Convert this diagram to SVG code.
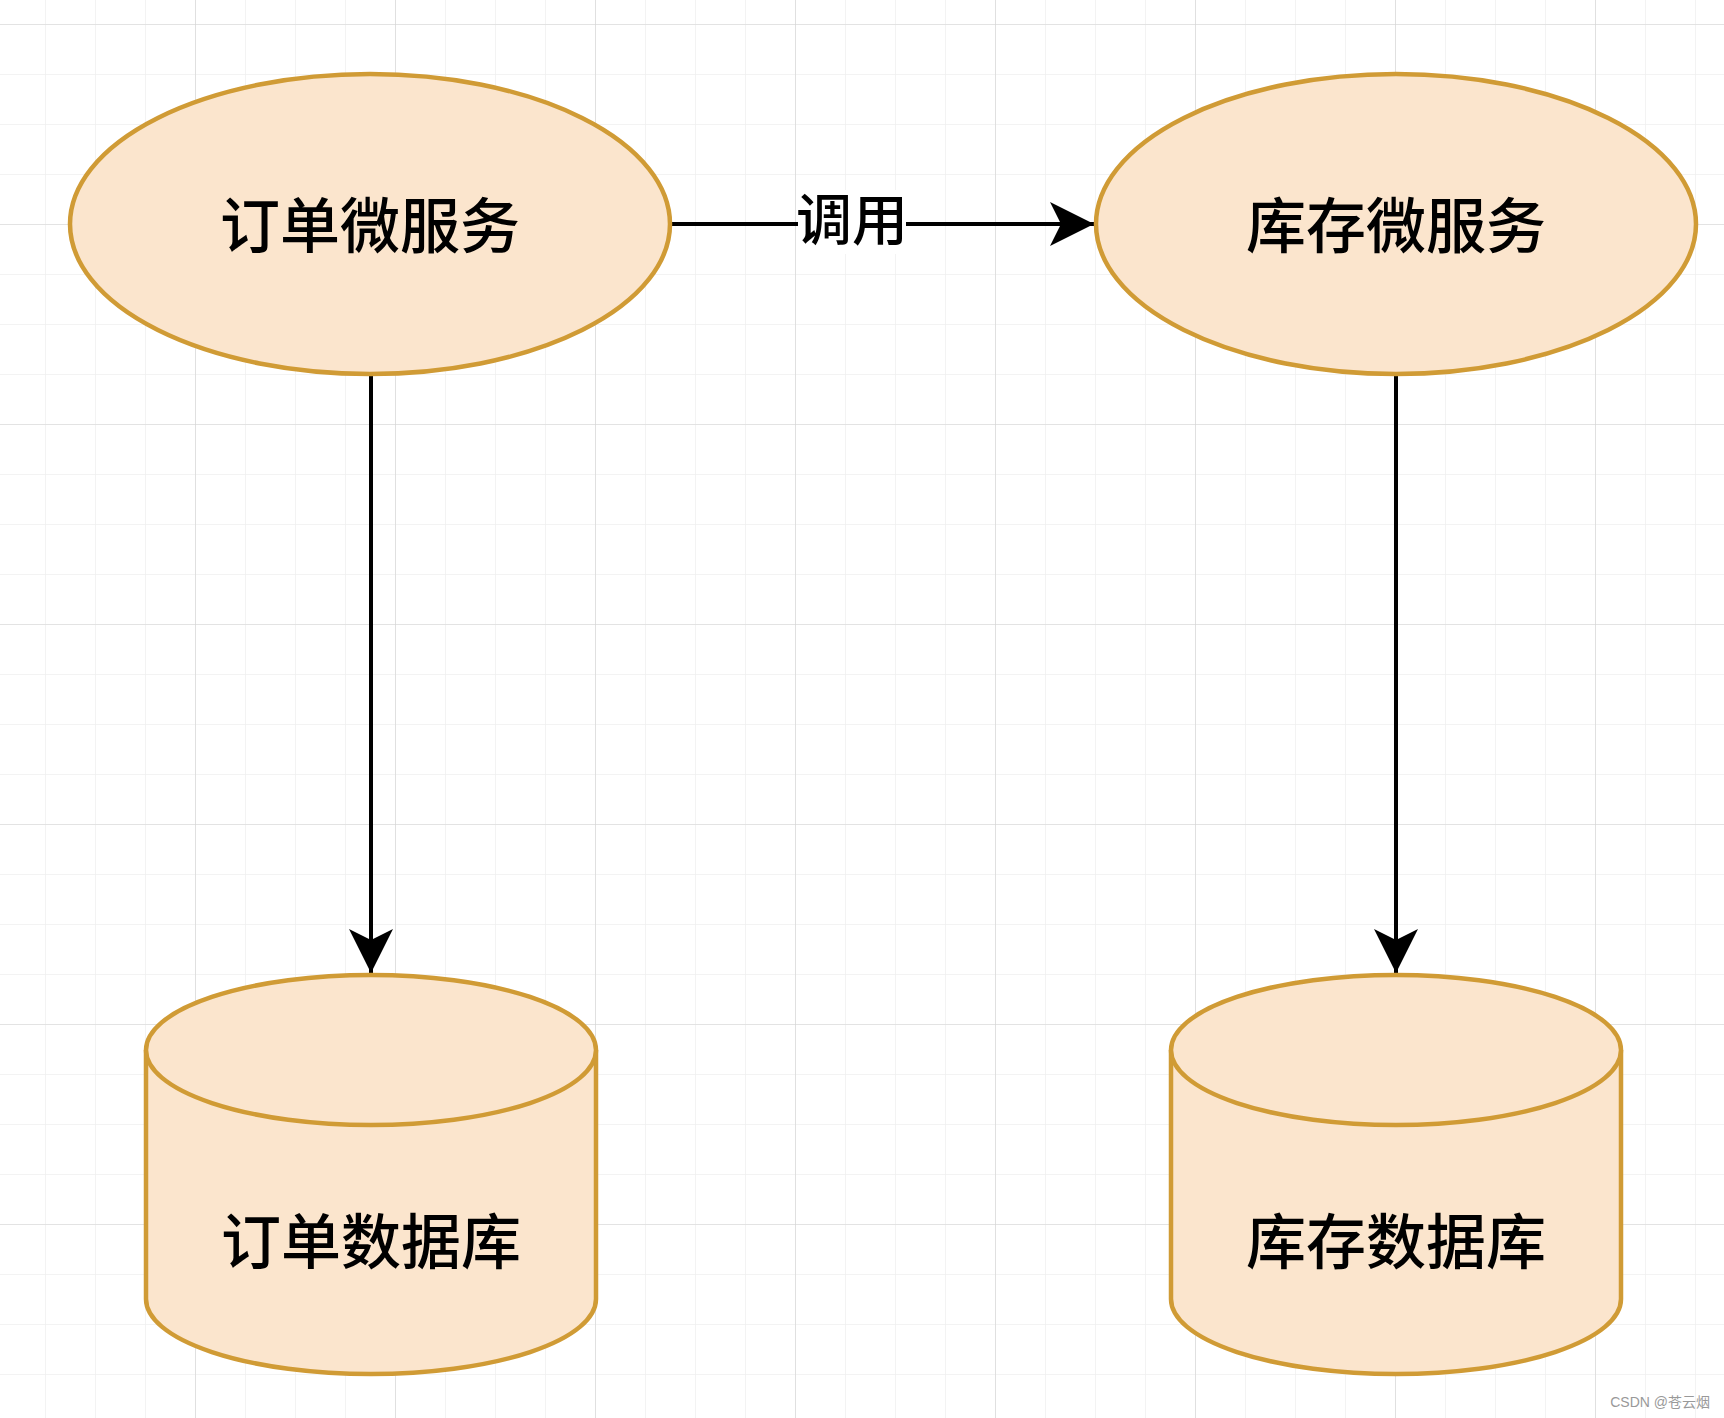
<svg xmlns="http://www.w3.org/2000/svg" width="1724" height="1418" viewBox="0 0 1724 1418">
<defs>
<pattern id="minor" width="50" height="50" patternUnits="userSpaceOnUse" x="-5" y="24">
<path d="M0 0H50M0 0V50" fill="none" stroke="#f0f0f0" stroke-width="1.5"/>
</pattern>
<pattern id="major" width="200" height="200" patternUnits="userSpaceOnUse" x="195" y="24">
<path d="M0 0H200M0 0V200" fill="none" stroke="#d4d4d4" stroke-width="1.2"/>
</pattern>
<marker id="arr" viewBox="0 0 44 44" markerWidth="44" markerHeight="44" refX="44" refY="22" orient="auto" markerUnits="userSpaceOnUse">
<path d="M0 0L44 22L0 44L11 22Z" fill="#000"/>
</marker>
</defs>
<style>
.shape{fill:#fbe5cd;stroke:#d09b35;stroke-width:4.5}
.lbl{font-family:"Noto Sans CJK SC","Noto Sans",sans-serif;font-weight:500;fill:#000;text-anchor:middle}
.big{font-size:60px}
.edge{stroke:#000;stroke-width:4;fill:none}
</style>
<rect width="1724" height="1418" fill="#fff"/>
<rect width="1724" height="1418" fill="url(#minor)"/>
<rect width="1724" height="1418" fill="url(#major)"/>
<g id="connectors">
<path class="edge" d="M670 224H1094" marker-end="url(#arr)"/>
<rect x="798" y="190" width="108" height="64" fill="#fff"/>
<text class="lbl" x="852" y="240" font-size="56">调用</text>
<path class="edge" d="M371 374V973" marker-end="url(#arr)"/>
<path class="edge" d="M1396 374V973" marker-end="url(#arr)"/>
</g>
<g id="order-service">
<ellipse class="shape" cx="370" cy="224" rx="300" ry="150"/>
<text class="lbl big" x="370" y="248">订单微服务</text>
</g>
<g id="stock-service">
<ellipse class="shape" cx="1396" cy="224" rx="300" ry="150"/>
<text class="lbl big" x="1396" y="248">库存微服务</text>
</g>
<g id="order-db">
<path class="shape" d="M146 1050A225 75 0 0 1 596 1050V1299A225 75 0 0 1 146 1299Z"/>
<path class="shape" d="M146 1050A225 75 0 0 0 596 1050" fill="none"/>
<text class="lbl big" x="371" y="1264">订单数据库</text>
</g>
<g id="stock-db">
<path class="shape" d="M1171 1050A225 75 0 0 1 1621 1050V1299A225 75 0 0 1 1171 1299Z"/>
<path class="shape" d="M1171 1050A225 75 0 0 0 1621 1050" fill="none"/>
<text class="lbl big" x="1396" y="1264">库存数据库</text>
</g>
<text x="1710" y="1407" font-family="'Liberation Sans','Noto Sans CJK SC',sans-serif" font-size="14" fill="#999" text-anchor="end">CSDN @苍云烟</text>
</svg>
